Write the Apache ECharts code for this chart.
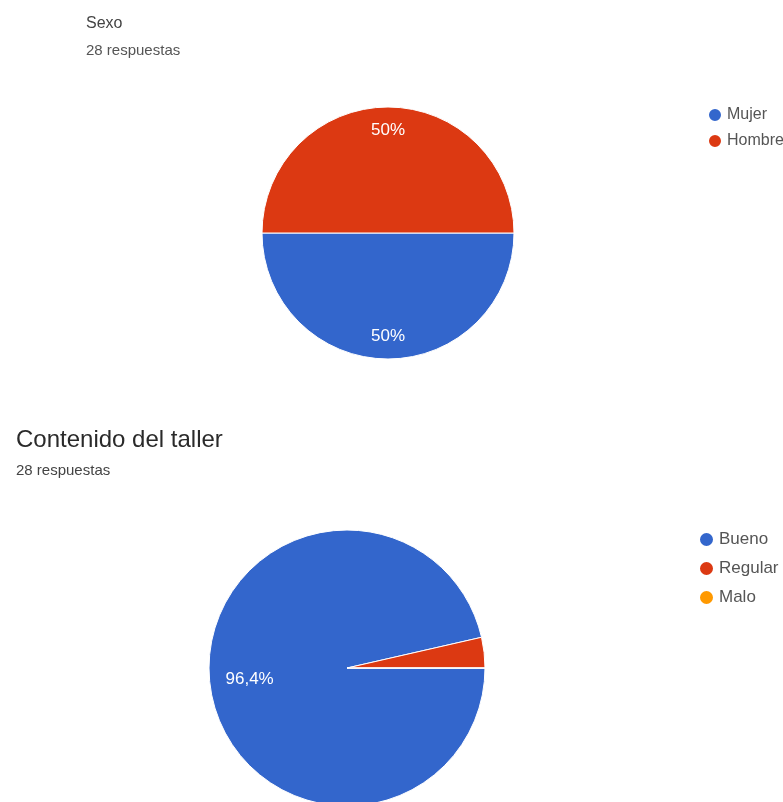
<!DOCTYPE html>
<html>
<head>
<meta charset="utf-8">
<script src="https://cdn.jsdelivr.net/npm/echarts@6/dist/echarts.min.js"></script>
<style>
html,body{margin:0;padding:0;background:#fff;}
#chart{width:783px;height:802px;}
</style>
</head>
<body>
<div id="chart"></div>
<script>
// Chart 1: Sexo
var sexoTitle = 'Sexo';
var sexoSub = '28 respuestas';
var sexoCategories = ['Mujer', 'Hombre'];
var sexoValues = [14, 14];

// Chart 2: Contenido del taller
var tallerTitle = 'Contenido del taller';
var tallerSub = '28 respuestas';
var tallerCategories = ['Bueno', 'Regular', 'Malo'];
var tallerValues = [27, 1, 0];

var colors = ['#3366cc', '#dc3912', '#ff9900'];

function toData(cats, vals) {
  return cats.map(function (c, i) { return { name: c, value: vals[i], itemStyle: { color: colors[i] } }; });
}
function pctFormatter(vals) {
  var total = vals.reduce(function (a, b) { return a + b; }, 0);
  return function (p) {
    var pct = p.value / total * 100;
    if (pct < 5) return '';
    var s = (Math.round(pct * 10) / 10).toString().replace('.', ',');
    return s + '%';
  };
}

var chart = echarts.init(document.getElementById('chart'));
var font = '"Liberation Sans", Arial, sans-serif';

function pieSeries(cats, vals, center, r) {
  return {
    type: 'pie',
    center: center,
    radius: [0, r],
    startAngle: 0,
    clockwise: true,
    label: { show: false },
    labelLine: { show: false },
    itemStyle: { borderColor: '#ffffff', borderWidth: 1 },
    emphasis: { disabled: true },
    animation: false,
    data: toData(cats, vals)
  };
}
function labelSeries(cats, vals, center, r0, r) {
  return {
    type: 'pie',
    center: center,
    radius: [r0, r],
    startAngle: 0,
    clockwise: true,
    silent: true,
    animation: false,
    itemStyle: { color: 'transparent', borderWidth: 0 },
    label: {
      show: true,
      position: 'inside',
      color: '#ffffff',
      fontSize: 17,
      fontFamily: font,
      formatter: pctFormatter(vals)
    },
    labelLine: { show: false },
    emphasis: { disabled: true },
    data: cats.map(function (c, i) { return { name: c + ' ', value: vals[i] }; })
  };
}

chart.setOption({
  backgroundColor: '#ffffff',
  title: [
    { text: sexoTitle, subtext: sexoSub, left: 81, top: 11, itemGap: 11,
      textStyle: { fontFamily: font, fontSize: 16, fontWeight: 'normal', color: '#444444' },
      subtextStyle: { fontFamily: font, fontSize: 15, color: '#555555' } },
    { text: tallerTitle, subtext: tallerSub, left: 11, top: 423, itemGap: 11,
      textStyle: { fontFamily: font, fontSize: 24, fontWeight: 'normal', color: '#2a2a2a' },
      subtextStyle: { fontFamily: font, fontSize: 15, color: '#444444' } }
  ],
  legend: [
    { orient: 'vertical', left: 702, top: 102, data: sexoCategories, icon: 'circle',
      itemWidth: 14, itemHeight: 14, itemGap: 10, selectedMode: false,
      textStyle: { fontFamily: font, fontSize: 16, color: '#555555' } },
    { orient: 'vertical', left: 693, top: 526, data: tallerCategories, icon: 'circle',
      itemWidth: 15, itemHeight: 15, itemGap: 12, selectedMode: false,
      textStyle: { fontFamily: font, fontSize: 17, color: '#555555' } }
  ],
  series: [
    pieSeries(sexoCategories, sexoValues, [388, 233], 126),
    labelSeries(sexoCategories, sexoValues, [388, 233], 74, 126),
    pieSeries(tallerCategories, tallerValues, [347, 668], 138),
    labelSeries(tallerCategories, tallerValues, [347, 668], 52, 138)
  ]
});
</script>
</body>
</html>
